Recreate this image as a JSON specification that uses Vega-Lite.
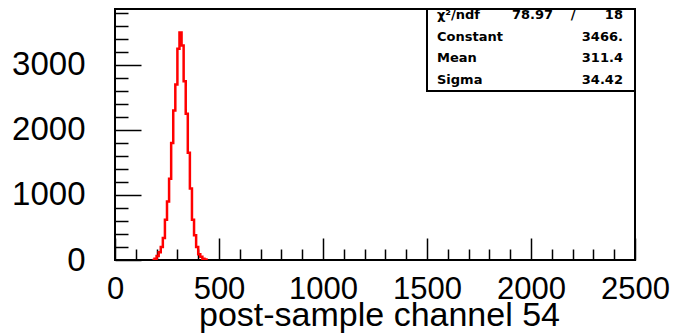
{
  "$schema": "https://vega.github.io/schema/vega-lite/v6.json",
  "width": 520,
  "height": 251,
  "autosize": "none",
  "padding": {"left": 115, "top": 9, "right": 41, "bottom": 75},
  "background": "white",
  "config": {
    "font": "Liberation Sans",
    "view": {"stroke": "black", "strokeWidth": 2},
    "axis": {"grid": false, "domain": false, "labelColor": "black", "titleColor": "black", "tickColor": "black"}
  },
  "datasets": {
    "hist": [
      {"channel": 180, "count": 0},
      {"channel": 190, "count": 20},
      {"channel": 200, "count": 60},
      {"channel": 210, "count": 120},
      {"channel": 220, "count": 200},
      {"channel": 230, "count": 340},
      {"channel": 240, "count": 620},
      {"channel": 250, "count": 900},
      {"channel": 260, "count": 1250},
      {"channel": 270, "count": 1800},
      {"channel": 280, "count": 2300},
      {"channel": 290, "count": 2700},
      {"channel": 300, "count": 3250},
      {"channel": 310, "count": 3500},
      {"channel": 320, "count": 3300},
      {"channel": 330, "count": 2750},
      {"channel": 340, "count": 2250},
      {"channel": 350, "count": 1650},
      {"channel": 360, "count": 1100},
      {"channel": 370, "count": 620},
      {"channel": 380, "count": 380},
      {"channel": 390, "count": 200},
      {"channel": 400, "count": 90},
      {"channel": 410, "count": 50},
      {"channel": 420, "count": 20},
      {"channel": 430, "count": 8},
      {"channel": 440, "count": 0}
    ],
    "stats": [
      {"row": 1, "label": "χ²/ndf", "mid": "78.97", "sep": "/", "value": "18"},
      {"row": 2, "label": "Constant", "mid": "", "sep": "", "value": "3466."},
      {"row": 3, "label": "Mean", "mid": "", "sep": "", "value": "311.4"},
      {"row": 4, "label": "Sigma", "mid": "", "sep": "", "value": "34.42"}
    ],
    "box": [{"x1": 1500, "x2": 2500, "y1": 2600, "y2": 3860}]
  },
  "resolve": {"axis": {"x": "independent", "y": "independent"}, "scale": {"y": "independent"}},
  "layer": [
    {
      "data": {"name": "hist"},
      "mark": {"type": "line", "interpolate": "step-after", "color": "#ff0000", "strokeWidth": 2.5, "clip": true},
      "encoding": {
        "x": {"field": "channel", "type": "quantitative", "scale": {"domain": [0, 2500], "nice": false, "zero": false},
          "axis": {"orient": "bottom", "values": [0, 500, 1000, 1500, 2000, 2500], "format": "d", "ticks": false, "labelFontSize": 31, "labelPadding": 14, "labelBaseline": "top", "labelFlush": false, "labelOverlap": false,
            "title": "post-sample channel 54", "titleFontSize": 34, "titleFontWeight": "normal", "titleBaseline": "alphabetic", "titleY": 65, "titleX": 264}},
        "y": {"field": "count", "type": "quantitative", "scale": {"domain": [0, 3860], "nice": false},
          "axis": {"orient": "left", "values": [0, 1000, 2000, 3000], "format": "d", "ticks": false, "labelFontSize": 33, "labelPadding": 30, "labelBaseline": "middle", "labelFlush": false, "labelOverlap": false, "title": null}}
      }
    },
    {
      "data": {"name": "hist"},
      "mark": {"type": "line", "opacity": 0},
      "encoding": {
        "x": {"field": "channel", "type": "quantitative", "scale": {"domain": [0, 2500], "nice": false, "zero": false},
          "axis": {"orient": "bottom", "values": [0,100,200,300,400,500,600,700,800,900,1000,1100,1200,1300,1400,1500,1600,1700,1800,1900,2000,2100,2200,2300,2400,2500],
            "labels": false, "title": null, "tickWidth": 1.5,
            "tickSize": {"condition": {"test": "datum.value % 500 === 0", "value": -22}, "value": -11}}},
        "y": {"field": "count", "type": "quantitative", "scale": {"domain": [0, 3860], "nice": false},
          "axis": {"orient": "left", "values": [0,200,400,600,800,1000,1200,1400,1600,1800,2000,2200,2400,2600,2800,3000,3200,3400,3600,3800],
            "labels": false, "title": null, "tickWidth": 1.5,
            "tickSize": {"condition": {"test": "datum.value % 1000 === 0", "value": -26}, "value": -13}}}
      }
    },
    {
      "data": {"name": "box"},
      "mark": {"type": "rect", "fill": "white", "stroke": "black", "strokeWidth": 2},
      "encoding": {
        "x": {"field": "x1", "type": "quantitative", "scale": {"domain": [0, 2500], "nice": false, "zero": false}, "axis": null},
        "x2": {"field": "x2"},
        "y": {"field": "y1", "type": "quantitative", "scale": {"domain": [0, 3860], "nice": false}, "axis": null},
        "y2": {"field": "y2"}
      }
    },
    {
      "data": {"name": "stats"},
      "encoding": {
        "y": {"field": "row", "type": "quantitative", "scale": {"domain": [0.723, 12.3], "reverse": true, "nice": false, "zero": false}, "axis": null}
      },
      "layer": [
        {
          "mark": {"type": "text", "align": "left", "baseline": "middle", "font": "DejaVu Sans", "fontWeight": "bold", "fontSize": 13, "color": "black"},
          "encoding": {"x": {"datum": 1548, "type": "quantitative", "scale": {"domain": [0, 2500], "nice": false, "zero": false}, "axis": null}, "text": {"field": "label"}}
        },
        {
          "mark": {"type": "text", "align": "right", "baseline": "middle", "font": "DejaVu Sans", "fontWeight": "bold", "fontSize": 13, "color": "black"},
          "encoding": {"x": {"datum": 2106, "type": "quantitative"}, "text": {"field": "mid"}}
        },
        {
          "mark": {"type": "text", "align": "center", "baseline": "middle", "font": "DejaVu Sans", "fontWeight": "bold", "fontSize": 13, "color": "black"},
          "encoding": {"x": {"datum": 2202, "type": "quantitative"}, "text": {"field": "sep"}}
        },
        {
          "mark": {"type": "text", "align": "right", "baseline": "middle", "font": "DejaVu Sans", "fontWeight": "bold", "fontSize": 13, "color": "black"},
          "encoding": {"x": {"datum": 2442, "type": "quantitative"}, "text": {"field": "value"}}
        }
      ]
    }
  ]
}
